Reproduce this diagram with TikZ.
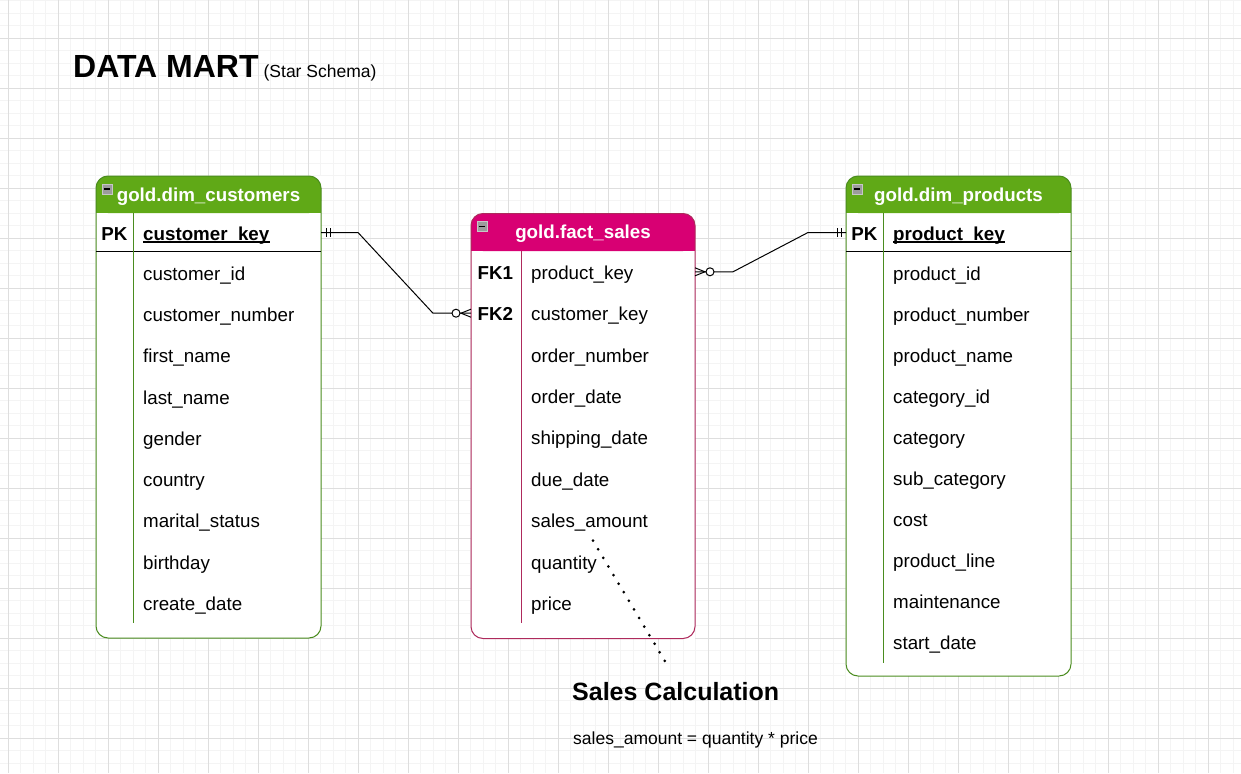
\documentclass[tikz,border=0pt]{standalone}
\usepackage{fontspec}
\setmainfont{Liberation Sans}
\usetikzlibrary{positioning, calc}
\definecolor{dimgreen}{HTML}{60A917}
\definecolor{dimedge}{HTML}{4A8C1F}
\definecolor{factpink}{HTML}{D80073}
\definecolor{factedge}{HTML}{AE2A5C}
\definecolor{gridminor}{HTML}{F4F4F4}
\definecolor{gridmajor}{HTML}{DEDEDE}
\definecolor{iconfill}{HTML}{9C9C9C}

% header band, outline and collapse icon of an ER table
\newcommand{\erdhead}[4]{
  \fill[#2, rounded corners=12pt] (#1.north west) rectangle ($(#1.north east)+(0,#4)$);
  \fill[#2] ($(#1.north west)+(0,#4-14)$) rectangle ($(#1.north east)+(0,#4)$);
  \draw[#3, line width=1pt, rounded corners=12pt] (#1.north west) rectangle (#1.south east);
  \node[icon] (#1-icon) at ($(#1.north west)+(11,13)$) {};
  \draw[line width=1.2pt] ($(#1-icon.west)+(2,0)$) -- ($(#1-icon.east)+(-2,0)$);
}
% underline of a key column
\newcommand{\keyline}[1]{
  \draw[line width=1.2pt] ($(#1.base west)+(0,2)$) -- ($(#1.base east)+(0,2)$);
}
% mandatory one (two bars)
\newcommand{\erone}[2]{
  \draw[erline] ($(#1)+(#2*5,-4.5)$) -- ++(0,9) ($(#1)+(#2*9,-4.5)$) -- ++(0,9);
}
% zero to many (crow's foot and ring)
\newcommand{\ermany}[2]{
  \draw[erline] ($(#1)+(0,-4)$) -- ($(#1)+(#2*10,0)$) -- ($(#1)+(0,4)$);
  \draw[erline, fill=white] ($(#1)+(#2*15,0)$) circle[radius=4pt];
}

\begin{document}
\begin{tikzpicture}[
    x=1pt, y=-1pt,
    font=\fontsize{18.75}{22}\selectfont,
    erline/.style={draw=black, line width=1pt},
    tablebox/.style={rectangle, fill=white, inner sep=0pt, outer sep=0pt},
    headtxt/.style={anchor=base, inner sep=0pt, text=white, font=\fontsize{18.75}{22}\selectfont\bfseries},
    keytxt/.style={anchor=base, inner sep=0pt, font=\fontsize{18.75}{22}\selectfont\bfseries},
    rowtxt/.style={anchor=base west, inner sep=0pt},
    icon/.style={draw=white!78!black, fill=iconfill, minimum size=10pt, inner sep=0pt},
    dotline/.style={line width=3pt, line cap=round, dash pattern=on 0pt off 10pt},
]
\useasboundingbox (0,0) rectangle (1241,773);

% ---------------------------------------------------------------- grid ---
\fill[white] (0,0) rectangle (1241,773);
\foreach \i in {0,...,98} \draw[gridminor, line width=1.2pt] ({8.333+12.5*\i},0) -- ({8.333+12.5*\i},773);
\foreach \i in {0,...,61} \draw[gridminor, line width=1.2pt] (0,{0.833+12.5*\i}) -- (1241,{0.833+12.5*\i});
\foreach \i in {0,...,24} \draw[gridmajor, line width=1pt] ({8.333+50*\i},0) -- ({8.333+50*\i},773);
\foreach \i in {0,...,14} \draw[gridmajor, line width=1pt] (0,{38.333+50*\i}) -- (1241,{38.333+50*\i});

% --------------------------------------------------------------- title ---
\node[anchor=base west, inner sep=0pt] (title) at (73,78)
  {\fontsize{32}{36}\selectfont\bfseries DATA MART\hspace{5pt}{\fontsize{17.5}{20}\selectfont\mdseries (Star Schema)}};

% ------------------------------------------------------- dim_customers ---
\node[tablebox, minimum width=225pt, minimum height=462pt] (dimcust) at (208.5,407) {};
\erdhead{dimcust}{dimgreen}{dimedge}{37}
\node[headtxt] (custtitle) at ($(dimcust.north)+(0,25)$) {gold.dim\_customers};
\draw[line width=1pt] ($(dimcust.north west)+(0,75)$) -- ($(dimcust.north east)+(0,75)$);
\draw[dimedge, line width=1pt] ($(dimcust.north west)+(37,37)$) -- ($(dimcust.south west)+(37,-15)$);
\node[keytxt] (custpk) at (114.5,240) {PK};
\node[rowtxt] (cust0) at (143,240) {\bfseries customer\_key};
\keyline{cust0}
\foreach \name [count=\i] in {customer\_id, customer\_number, first\_name, last\_name, gender,
    country, marital\_status, birthday, create\_date}
  \node[rowtxt] (cust\i) at (143,{239+41.25*\i}) {\name};

% ---------------------------------------------------------- fact_sales ---
\node[tablebox, minimum width=224pt, minimum height=425pt] (dimfact) at (583,426) {};
\erdhead{dimfact}{factpink}{factedge}{37.5}
\node[headtxt] (facttitle) at ($(dimfact.north)+(0,24.8)$) {gold.fact\_sales};
\draw[factedge, line width=1pt] ($(dimfact.north west)+(50,37.5)$) -- ($(dimfact.south west)+(50,-15.5)$);
\node[keytxt] (factfk1) at (495.3,279.3) {FK1};
\node[keytxt] (factfk2) at (495.3,320.7) {FK2};
\foreach \name [count=\i] in {product\_key, customer\_key, order\_number, order\_date, shipping\_date,
    due\_date, sales\_amount, quantity, price}
  \node[rowtxt] (fact\i) at (531,{237.9+41.4*\i}) {\name};

% -------------------------------------------------------- dim_products ---
\node[tablebox, minimum width=225pt, minimum height=500pt] (dimprod) at (958.5,426) {};
\erdhead{dimprod}{dimgreen}{dimedge}{37}
\node[headtxt] (prodtitle) at ($(dimprod.north)+(0,25)$) {gold.dim\_products};
\draw[line width=1pt] ($(dimprod.north west)+(0,75)$) -- ($(dimprod.north east)+(0,75)$);
\draw[dimedge, line width=1pt] ($(dimprod.north west)+(37,37)$) -- ($(dimprod.south west)+(37,-13)$);
\node[keytxt] (prodpk) at (864.3,240) {PK};
\node[rowtxt] (prod0) at (893,240) {\bfseries product\_key};
\keyline{prod0}
\foreach \name [count=\i] in {product\_id, product\_number, product\_name, category\_id, category,
    sub\_category, cost, product\_line, maintenance, start\_date}
  \node[rowtxt] (prod\i) at (893,{239+41.05*\i}) {\name};

% ---------------------------------------------------------- relations ---
\coordinate (custend) at ($(dimcust.east |- cust0.base)+(0,-7.5)$);
\coordinate (factcust) at ($(dimfact.west |- fact2.base)+(0,-7.5)$);
\draw[erline] (custend) -- ++(37,0) -- ($(factcust)+(-38,0)$) -- (factcust);
\erone{custend}{1}
\ermany{factcust}{-1}

\coordinate (factprod) at ($(dimfact.east |- fact1.base)+(0,-7.5)$);
\coordinate (prodend) at ($(dimprod.west |- prod0.base)+(0,-7.5)$);
\draw[erline] (factprod) -- ++(38,0) -- ($(prodend)+(-38,0)$) -- (prodend);
\ermany{factprod}{1}
\erone{prodend}{-1}

% ---------------------------------------------------------------- note ---
\node[anchor=base west, inner sep=0pt, font=\fontsize{25}{30}\selectfont\bfseries] (calc) at (572,700) {Sales Calculation};
\node[anchor=base west, inner sep=0pt, font=\fontsize{17.5}{20}\selectfont] (formula) at (573,744) {sales\_amount = quantity * price};
\draw[dotline] ($(fact7.base west)+(62,13)$) -- ($(calc.base west)+(94,-37)$);

\end{tikzpicture}
\end{document}
